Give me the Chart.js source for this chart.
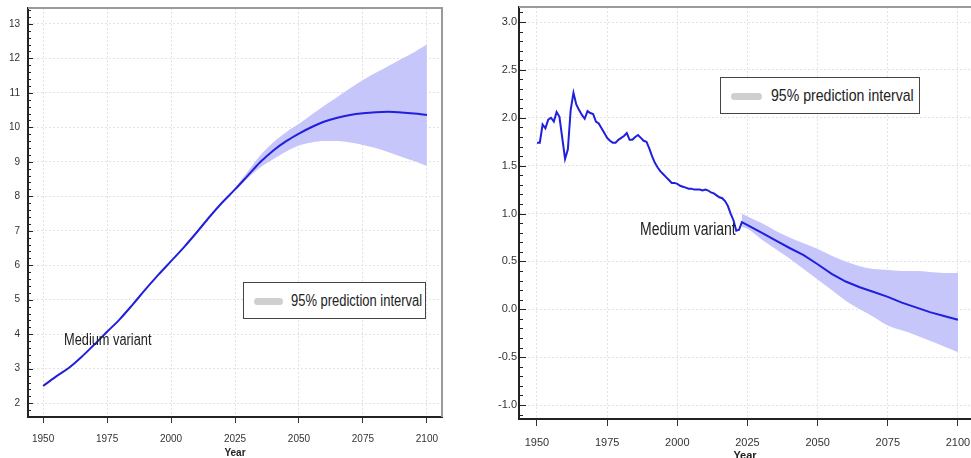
<!DOCTYPE html>
<html>
<head>
<meta charset="utf-8">
<script src="https://cdn.jsdelivr.net/npm/chart.js@4.4.0/dist/chart.umd.min.js"></script>
<style>
    body { margin: 0; background: #fff; width: 971px; height: 458px; overflow: hidden; position: relative; font-family: "Liberation Sans", Arial, sans-serif; }
    canvas { position: absolute; top: 0; }
    #popChart { left: 0; }
    #rateChart { left: 485px; }
    .legend { position: absolute; background: #fff; border: 1px solid #444; box-sizing: border-box; }
    .legend .swatch { position: absolute; background: #cfcfcf; border-radius: 4px; }
    .legend .txt, .note { position: absolute; white-space: nowrap; transform-origin: 0 50%; color: #222; }
</style>
</head>
<body>
<canvas id="popChart" width="485" height="458" style="width:485px;height:458px"></canvas>
<canvas id="rateChart" width="486" height="458" style="width:486px;height:458px"></canvas>

<div class="legend" style="left:243px;top:282px;width:183px;height:37px">
    <div class="swatch" style="left:10px;top:15px;width:29px;height:7px"></div>
    <div class="txt" style="left:47px;top:0;line-height:35px;font-size:16px;transform:scaleX(0.81)">95% prediction interval</div>
</div>
<div class="note" style="left:64px;top:332px;font-size:16px;line-height:16px;transform:scaleX(0.8)">Medium variant</div>

<div class="legend" style="left:720px;top:77px;width:200px;height:37px">
    <div class="swatch" style="left:10px;top:15px;width:31px;height:7px"></div>
    <div class="txt" style="left:50px;top:0;line-height:35px;font-size:17px;transform:scaleX(0.83)">95% prediction interval</div>
</div>
<div class="note" style="left:640px;top:221px;font-size:17.5px;line-height:17.5px;transform:scaleX(0.8)">Medium variant</div>

<script>
// Shared x axis
const yearTicks = [1950, 1975, 2000, 2025, 2050, 2075, 2100];

// Left panel: world population (billions)
const popYears = [1950, 1955, 1960, 1965, 1970, 1975, 1980, 1985, 1990, 1995, 2000, 2005, 2010, 2015, 2020,
    2025, 2030, 2035, 2040, 2045, 2050, 2055, 2060, 2065, 2070, 2075, 2080, 2085, 2090, 2095, 2100];
const popMedium = [2.50, 2.77, 3.02, 3.34, 3.70, 4.07, 4.44, 4.86, 5.30, 5.72, 6.12, 6.52, 6.95, 7.40, 7.82,
    8.20, 8.60, 9.00, 9.33, 9.60, 9.82, 10.01, 10.17, 10.28, 10.36, 10.41, 10.44, 10.45, 10.43, 10.40, 10.36];
const popBandYears = [2022, 2025, 2030, 2035, 2040, 2045, 2050, 2055, 2060, 2065, 2070, 2075, 2080, 2085, 2090, 2095, 2100];
const popUpper = [7.97, 8.24, 8.72, 9.20, 9.57, 9.86, 10.10, 10.37, 10.63, 10.88, 11.13, 11.37, 11.58, 11.78, 11.98, 12.18, 12.40];
const popLower = [7.97, 8.16, 8.52, 8.84, 9.08, 9.30, 9.47, 9.56, 9.60, 9.60, 9.56, 9.49, 9.40, 9.28, 9.15, 9.02, 8.88];
const popTicks = [2, 3, 4, 5, 6, 7, 8, 9, 10, 11, 12, 13];

// Right panel: growth rate (%)
const rateYears = [1950, 1951, 1952, 1953, 1954, 1955, 1956, 1957, 1958, 1959,
    1960, 1961, 1962, 1963, 1964, 1965, 1966, 1967, 1968, 1969,
    1970, 1971, 1972, 1973, 1974, 1975, 1976, 1977, 1978, 1979,
    1980, 1981, 1982, 1983, 1984, 1985, 1986, 1987, 1988, 1989,
    1990, 1991, 1992, 1993, 1994, 1995, 1996, 1997, 1998, 1999,
    2000, 2001, 2002, 2003, 2004, 2005, 2006, 2007, 2008, 2009,
    2010, 2011, 2012, 2013, 2014, 2015, 2016, 2017, 2018, 2019,
    2020, 2021, 2022, 2023,
    2025, 2030, 2035, 2040, 2045, 2050, 2055, 2060, 2065, 2070, 2075, 2080, 2085, 2090, 2095, 2100];
const rateMedium = [1.74, 1.74, 1.93, 1.89, 1.98, 2.00, 1.96, 2.06, 2.01, 1.79,
    1.57, 1.67, 2.08, 2.26, 2.14, 2.08, 2.03, 1.99, 2.07, 2.05,
    2.04, 1.96, 1.94, 1.89, 1.84, 1.79, 1.76, 1.74, 1.74, 1.77,
    1.79, 1.81, 1.84, 1.77, 1.77, 1.80, 1.82, 1.79, 1.76, 1.75,
    1.68, 1.60, 1.53, 1.48, 1.44, 1.41, 1.38, 1.35, 1.32, 1.32,
    1.31, 1.29, 1.28, 1.27, 1.26, 1.26, 1.25, 1.25, 1.25, 1.24,
    1.25, 1.24, 1.22, 1.21, 1.19, 1.17, 1.16, 1.13, 1.08, 1.00,
    0.93, 0.82, 0.83, 0.91,
    0.88, 0.80, 0.72, 0.64, 0.565, 0.47, 0.37, 0.29, 0.23, 0.18, 0.13, 0.07, 0.02, -0.03, -0.07, -0.11];
const rateBandYears = [2023, 2025, 2030, 2035, 2040, 2045, 2050, 2055, 2060, 2065, 2070, 2075, 2080, 2085, 2090, 2095, 2100];
const rateUpper = [1.00, 0.97, 0.90, 0.82, 0.75, 0.69, 0.63, 0.56, 0.50, 0.45, 0.42, 0.41, 0.40, 0.40, 0.39, 0.38, 0.38];
const rateLower = [0.86, 0.84, 0.73, 0.63, 0.53, 0.42, 0.31, 0.20, 0.09, 0.00, -0.08, -0.17, -0.22, -0.27, -0.33, -0.39, -0.45];
const rateTicks = [-1.0, -0.5, 0.0, 0.5, 1.0, 1.5, 2.0, 2.5, 3.0];

const FONT = '"Liberation Sans", Arial, sans-serif';
const LINE = '#1f1fdc';
const BAND = '#c6c6fb';
const GRID = '#e3e3e3';

function pts(xs, ys) {
    return xs.map((x, i) => ({ x: x, y: ys[i] }));
}

// Inward major/minor ticks on the y axis plus the grey frame on top/right
const axisDecor = {
    id: 'axisDecor',
    afterDraw(chart, args, o) {
        const { ctx, chartArea: a, scales: { y } } = chart;
        ctx.save();
        ctx.strokeStyle = '#222';
        ctx.lineWidth = 1;
        ctx.beginPath();
        const first = Math.ceil(y.min / o.minor - 1e-6);
        for (let i = first; i * o.minor <= y.max + 1e-6; i++) {
            const v = i * o.minor;
            const isMajor = Math.abs(v / o.major - Math.round(v / o.major)) < 1e-6;
            const py = Math.round(y.getPixelForValue(v)) + 0.5;
            ctx.moveTo(a.left, py);
            ctx.lineTo(a.left + (isMajor ? o.majorLen : o.minorLen), py);
        }
        ctx.stroke();

        ctx.strokeStyle = '#9a9a9a';
        ctx.lineWidth = 2;
        ctx.beginPath();
        ctx.moveTo(a.left, a.top);
        ctx.lineTo(a.right, a.top);
        if (o.rightEdge) {
            ctx.lineTo(a.right, a.bottom);
        }
        ctx.stroke();
        ctx.restore();
    }
};

function buildChart(id, o) {
    return new Chart(document.getElementById(id), {
        type: 'line',
        data: {
            datasets: [
                { data: pts(o.years, o.medium), borderColor: LINE, borderWidth: 2, pointRadius: 0, fill: false,
                  cubicInterpolationMode: o.smooth ? 'monotone' : 'default', tension: 0 },
                { data: pts(o.bandYears, o.upper), borderWidth: 0, borderColor: 'transparent', backgroundColor: BAND,
                  pointRadius: 0, fill: '+1', cubicInterpolationMode: 'monotone' },
                { data: pts(o.bandYears, o.lower), borderWidth: 0, borderColor: 'transparent',
                  pointRadius: 0, fill: false, cubicInterpolationMode: 'monotone' }
            ]
        },
        options: {
            responsive: false,
            animation: false,
            devicePixelRatio: 1,
            layout: { autoPadding: false, padding: { left: 0, right: o.padRight, top: o.padTop, bottom: 0 } },
            plugins: {
                legend: { display: false },
                tooltip: { enabled: false },
                axisDecor: o.decor
            },
            scales: {
                x: {
                    type: 'linear',
                    min: o.xMin,
                    max: o.xMax,
                    afterBuildTicks: s => { s.ticks = yearTicks.map(v => ({ value: v })); },
                    afterFit: s => { s.height = o.xHeight; s.paddingLeft = 0; s.paddingRight = 0; },
                    ticks: { color: '#333', font: { family: FONT, size: o.xFont }, padding: o.xPad,
                             maxRotation: 0, autoSkip: false, callback: v => String(v) },
                    grid: { color: GRID, drawTicks: true, tickLength: o.xTickLen, tickColor: '#333',
                            tickWidth: 1, tickBorderDash: [] },
                    border: { color: '#222', width: 2, dash: [2, 2] },
                    title: { display: true, text: 'Year', color: '#222',
                             font: { family: FONT, size: o.titleSize, weight: 'bold', lineHeight: 1 },
                             padding: { top: 0, bottom: o.titlePad } }
                },
                y: {
                    min: o.yMin,
                    max: o.yMax,
                    afterBuildTicks: s => { s.ticks = o.ticks.map(v => ({ value: v })); },
                    afterFit: s => { s.width = o.yWidth; s.paddingTop = 0; s.paddingBottom = 0; },
                    ticks: { color: '#333', font: { family: FONT, size: o.yFont }, padding: o.yPad, callback: o.fmt },
                    grid: { color: GRID, drawTicks: false },
                    border: { color: '#222', width: 2, dash: [2, 2] }
                }
            }
        },
        plugins: [axisDecor]
    });
}

buildChart('popChart', {
    years: popYears, medium: popMedium, bandYears: popBandYears, upper: popUpper, lower: popLower,
    ticks: popTicks, fmt: v => String(v), smooth: true,
    xMin: 1944.1, xMax: 2105.9, yMin: 1.6, yMax: 13.46,
    padRight: 43, padTop: 8, xHeight: 41, yWidth: 28,
    xFont: 10, xPad: 10, xTickLen: 6, yFont: 10, yPad: 8, titleSize: 10, titlePad: 0,
    decor: { minor: 0.2, major: 1, minorLen: 3, majorLen: 5, rightEdge: true }
});

buildChart('rateChart', {
    years: rateYears, medium: rateMedium, bandYears: rateBandYears, upper: rateUpper, lower: rateLower,
    ticks: rateTicks, fmt: v => v.toFixed(1), smooth: false,
    xMin: 1943.59, xMax: 2104.64, yMin: -1.146, yMax: 3.157,
    padRight: 0, padTop: 7, xHeight: 39, yWidth: 34,
    xFont: 11, xPad: 10, xTickLen: 7, yFont: 11, yPad: 2, titleSize: 11, titlePad: -3,
    decor: { minor: 0.1, major: 0.5, minorLen: 4, majorLen: 7, rightEdge: false }
});
</script>
</body>
</html>
